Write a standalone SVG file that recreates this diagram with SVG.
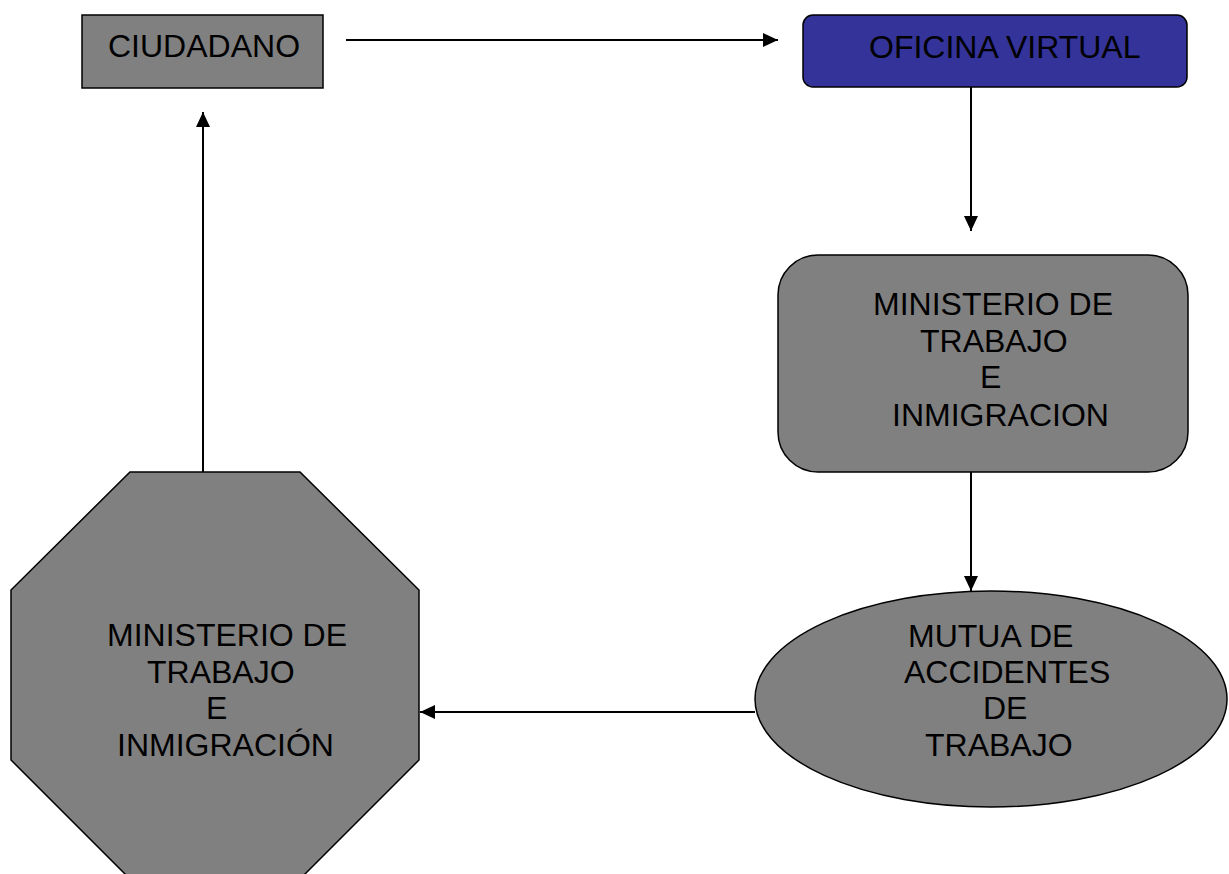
<svg xmlns="http://www.w3.org/2000/svg" width="1229" height="874" viewBox="0 0 1229 874">
<style>
.shape{fill:#808080;stroke:#000;stroke-width:1.5}
.lbl{font-family:"Liberation Sans",Arial,sans-serif;font-size:32px;fill:#000}
.conn{stroke:#000;stroke-width:2;fill:none}
</style>
<defs>
<marker id="ah" viewBox="0 0 15 14" refX="15" refY="7" markerWidth="15" markerHeight="14" markerUnits="userSpaceOnUse" orient="auto">
<path d="M0,0 L15,7 L0,14 Z" fill="#000"/>
</marker>
</defs>
<rect width="1229" height="874" fill="#fff"/>
<g id="connectors">
<line class="conn" x1="346" y1="40" x2="778" y2="40" marker-end="url(#ah)"/>
<line class="conn" x1="971" y1="87" x2="971" y2="231" marker-end="url(#ah)"/>
<line class="conn" x1="971" y1="472" x2="971" y2="591" marker-end="url(#ah)"/>
<line class="conn" x1="755" y1="712" x2="420" y2="712" marker-end="url(#ah)"/>
<line class="conn" x1="203" y1="472" x2="203" y2="112" marker-end="url(#ah)"/>
</g>
<g id="ciudadano">
<rect class="shape" x="82" y="15" width="241" height="73"/>
<text class="lbl" x="108" y="57">CIUDADANO</text>
</g>
<g id="oficina">
<rect x="803" y="15" width="384" height="72" rx="10" fill="#333399" stroke="#000" stroke-width="1.5"/>
<text class="lbl" x="869" y="58">OFICINA VIRTUAL</text>
</g>
<g id="ministerio1">
<rect class="shape" x="778" y="255" width="410" height="217" rx="40"/>
<text class="lbl" x="873" y="315">MINISTERIO DE</text>
<text class="lbl" x="920" y="352">TRABAJO</text>
<text class="lbl" x="980" y="388">E</text>
<text class="lbl" x="892" y="426">INMIGRACION</text>
</g>
<g id="mutua">
<ellipse class="shape" cx="991" cy="699" rx="236" ry="108"/>
<text class="lbl" x="908" y="647">MUTUA DE</text>
<text class="lbl" x="904" y="683">ACCIDENTES</text>
<text class="lbl" x="983" y="719">DE</text>
<text class="lbl" x="925" y="756">TRABAJO</text>
</g>
<g id="ministerio2">
<polygon class="shape" points="130,472 300,472 419,590 419,760 300,879 130,879 11,760 11,590"/>
<text class="lbl" x="107" y="646">MINISTERIO DE</text>
<text class="lbl" x="147" y="683">TRABAJO</text>
<text class="lbl" x="206" y="719">E</text>
<text class="lbl" x="117" y="756">INMIGRACIÓN</text>
</g>
</svg>
